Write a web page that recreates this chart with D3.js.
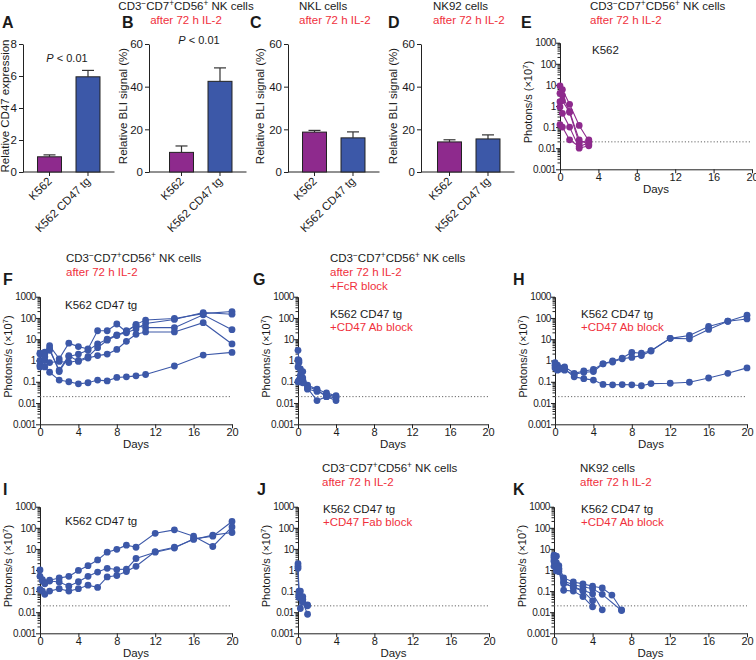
<!DOCTYPE html>
<html><head><meta charset="utf-8">
<script src="https://cdn.jsdelivr.net/npm/d3@7"></script>
<style>body{margin:0;background:#fff} svg text{font-family:"Liberation Sans",Arial,Helvetica,sans-serif;fill:#1a1a1a}</style>
</head><body><svg id="c" width="756" height="660"></svg>
<script>
// ---------------- data ----------------
const barCategories = ["K562", "K562 CD47 tg"];
const aValues = [0.95, 5.95], aErrors = [0.12, 0.4];
const bValues = [9.2, 42.5],  bErrors = [3.0, 6.3];
const cValues = [18.7, 16.0], cErrors = [0.8, 2.8];
const dValues = [14.1, 15.5], dErrors = [1.0, 1.9];
const aTicks = [0, 2, 4, 6, 8];
const bliTicks = [0, 20, 40, 60];
const logTicks = [1000, 100, 10, 1, 0.1, 0.01, 0.001];
const logTickLabels = ["1000", "100", "10", "1", "0.1", "0.01", "0.001"];
const dayTicks = [0, 4, 8, 12, 16, 20];
const detectionLimit = 0.02;

const seriesE = [
  [[0,9],[0.25,6],[1,1.2],[2,0.12],[3,0.022]],
  [[0,4],[0.25,3.2],[1,0.55],[2,0.025],[3,0.015]],
  [[0,1.6],[0.25,1.8],[1,0.5],[2,0.017],[3,0.025]],
  [[0,0.9],[0.25,0.45],[1,0.1],[2,0.01],[3,0.013]],
  [[0,0.13],[0.25,0.1],[1,0.025],[2,0.012],[3,0.018]]
];
const seriesF = [
  [[0,2.2],[0.5,2.5],[1,5],[2,1.2],[3,6.5],[4,4.5],[5,3.5],[6,25],[7,25],[8,52],[9,22],[10,50],[11,80],[14,95],[17,160],[20,200]],
  [[0,1],[0.5,2],[1,3.7],[2,0.3],[3,1.5],[4,2],[5,3],[6,6],[7,10],[8,16],[9,20],[10,30],[11,55],[14,85],[17,180],[20,150]],
  [[0,0.5],[0.5,1],[1,0.8],[2,0.9],[3,0.8],[4,1],[5,1.5],[6,4],[7,9],[8,15],[9,25],[10,45],[11,35],[14,35],[17,140],[20,28]],
  [[0,2],[0.5,1.5],[1,3],[2,0.35],[3,1.7],[4,0.9],[5,1.3],[6,1.7],[7,2],[8,3.3],[9,8],[10,17],[11,22],[14,22],[17,60],[20,6]],
  [[0,0.6],[0.5,0.5],[1,0.28],[2,0.12],[3,0.1],[4,0.08],[5,0.09],[6,0.12],[7,0.11],[8,0.16],[9,0.17],[10,0.19],[11,0.22],[14,0.55],[17,1.8],[20,2.4]]
];
const seriesG = [
  [[0,3],[0.1,1],[0.25,0.4],[0.5,0.3],[1,0.07],[2,0.045],[3,0.03],[4,0.022]],
  [[0,1.1],[0.1,0.8],[0.25,0.15],[0.5,0.12],[1,0.06],[2,0.04],[3,0.02],[4,0.018]],
  [[0,0.5],[0.1,0.1],[0.25,0.1],[0.5,0.09],[1,0.05],[2,0.013],[3,0.02],[4,0.013]],
  [[0,0.1],[0.1,0.12],[0.25,0.2],[0.5,0.15],[1,0.045],[2,0.035],[3,0.025],[4,0.02]]
];
const seriesH = [
  [[0,0.8],[0.25,0.6],[0.5,0.45],[1,0.5],[2,0.25],[3,0.32],[4,0.38],[5,0.7],[6,0.95],[7,1.3],[8,2.4],[9,2.2],[10,2.9],[12,11],[14,15],[16,40],[18,70],[20,135]],
  [[0,0.6],[0.25,0.45],[0.5,0.4],[1,0.35],[2,0.22],[3,0.28],[4,0.3],[5,0.7],[6,0.85],[7,1.2],[8,1.4],[9,1.7],[10,2.8],[12,11],[14,10.5],[16,29],[18,70],[20,90]],
  [[0,0.45],[0.25,0.35],[0.5,0.4],[1,0.4],[2,0.17],[3,0.14],[4,0.12],[5,0.075],[6,0.072],[7,0.074],[8,0.072],[9,0.065],[10,0.082],[12,0.085],[14,0.095],[16,0.15],[18,0.25],[20,0.45]]
];
const seriesI = [
  [[0,0.5],[0.25,0.3],[0.5,0.25],[1,0.33],[2,0.42],[3,0.5],[4,0.95],[5,1.6],[6,3],[7,7],[8,9.5],[9,15],[10,12],[12,55],[14,80],[16,40],[18,13],[20,110]],
  [[0,1],[0.25,0.35],[0.5,0.22],[1,0.3],[2,0.27],[3,0.17],[4,0.28],[5,0.5],[6,0.8],[7,1.2],[8,1.05],[9,1.1],[10,3.5],[12,7],[14,11],[16,30],[18,40],[20,200]],
  [[0,0.12],[0.25,0.1],[0.5,0.07],[1,0.1],[2,0.13],[3,0.1],[4,0.13],[5,0.19],[6,0.15],[7,0.47],[8,0.55],[9,0.85],[10,1.5],[12,7.5],[14,12],[16,28],[18,45],[20,60]]
];
const seriesJ = [
  [[0,2],[0.1,0.1],[0.25,0.06],[0.5,0.04],[1,0.022]],
  [[0,1.5],[0.1,0.06],[0.25,0.1],[0.5,0.055],[1,0.02]],
  [[0,1.2],[0.1,0.05],[0.25,0.015],[0.5,0.03],[1,0.008]]
];
const seriesK = [
  [[0,5],[0.25,4.5],[0.5,1.6],[1,0.42],[2,0.27],[3,0.22],[4,0.17],[5,0.14],[6,0.065],[7,0.013]],
  [[0,4],[0.25,2.2],[0.5,1.1],[1,0.3],[2,0.2],[3,0.16],[4,0.13],[5,0.07],[7,0.012]],
  [[0,3],[0.25,1.6],[0.5,0.85],[1,0.22],[2,0.16],[3,0.11],[4,0.075],[5,0.013]],
  [[0,2.5],[0.25,1.2],[0.5,0.9],[1,0.11],[2,0.1],[3,0.055],[4,0.018]],
  [[0,1.5],[0.25,0.9],[0.5,1.2],[1,0.26],[2,0.15],[3,0.1],[4,0.035]]
];

// ---------------- drawing ----------------
const PURPLE = "#8E2A8D", BLUE = "#3C58A8", RED = "#F0303C";
const FONT = "Liberation Sans, Arial, sans-serif";
const svg = d3.select("#c");

function rich(x, y, parts, opts = {}) {
  const size = opts.size || 11.5;
  const t = svg.append("text").attr("x", x).attr("y", y)
    .attr("font-size", size).attr("text-anchor", opts.anchor || "start");
  if (opts.color) t.style("fill", opts.color);
  let pend = 0;
  parts.forEach(p => {
    let ts;
    if (typeof p === "string") { ts = t.append("tspan").attr("font-size", size).text(p); if (pend) { ts.attr("dy", pend); pend = 0; } }
    else if (p.sup) { t.append("tspan").attr("dy", -4.5).attr("font-size", size * 0.72).text(p.sup); pend = 4.5; }
    else if (p.it) { ts = t.append("tspan").attr("font-size", size).attr("font-style", "italic").text(p.it); if (pend) { ts.attr("dy", pend); pend = 0; } }
  });
  return t;
}
const cellTitle = [ "CD3", {sup:"\u2212"}, "CD7", {sup:"+"}, "CD56", {sup:"+"}, " NK cells" ];
function letter(x, y, s) {
  svg.append("text").attr("x", x).attr("y", y).attr("font-size", 16).attr("font-weight", "bold").text(s);
}

function barPanel(o) {
  const y = d3.scaleLinear().domain([0, o.max]).range([172, 44]);
  const x = d3.scaleBand().domain(barCategories).range([o.axisX + o.gap, o.axisX + o.gap + 91.5]).padding(0.377);
  const g = svg.append("g");
  const ya = g.append("g").attr("transform", `translate(${o.axisX},0)`)
    .call(d3.axisLeft(y).tickValues(o.ticks).tickSize(4).tickSizeOuter(0).tickPadding(2));
  ya.attr("font-size", 11.5).attr("font-family", FONT);
  ya.selectAll("text").attr("font-size", 11.5);
  ya.selectAll("line,path").attr("stroke", "#222");
  const xa = g.append("g").attr("transform", `translate(0,172)`);
  xa.append("line").attr("x1", o.axisX).attr("x2", o.axisX + o.gap + 91.5).attr("stroke", "#222");
  barCategories.forEach(c => {
    const cx = x(c) + x.bandwidth() / 2;
    xa.append("line").attr("x1", cx).attr("x2", cx).attr("y2", 4).attr("stroke", "#222");
    xa.append("text").attr("transform", `translate(${cx + 3},${10}) rotate(-45)`)
      .attr("text-anchor", "end").attr("font-size", 11.5).text(c);
  });
  barCategories.forEach((c, i) => {
    const cx = x(c) + x.bandwidth() / 2;
    const top = y(o.values[i] + o.errors[i]);
    g.append("line").attr("x1", cx).attr("x2", cx).attr("y1", y(o.values[i])).attr("y2", top).attr("stroke", "#333").attr("stroke-width", 1.2);
    g.append("line").attr("x1", cx - 6).attr("x2", cx + 6).attr("y1", top).attr("y2", top).attr("stroke", "#333").attr("stroke-width", 1.2);
  });
  g.selectAll("rect.bar").data(o.values).join("rect")
    .attr("x", (d, i) => x(barCategories[i])).attr("width", x.bandwidth())
    .attr("y", d => y(d)).attr("height", d => y(0) - y(d))
    .attr("fill", (d, i) => i === 0 ? PURPLE : BLUE).attr("stroke", "#222").attr("stroke-width", 1);
  svg.append("text").attr("transform", `translate(${o.labelX},106) rotate(-90)`)
    .attr("text-anchor", "middle").attr("font-size", 11.5).text(o.ylabel);
}

function logPanel(o) {
  const x = d3.scaleLinear().domain([0, 20]).range([o.axisX, o.x20]);
  const y = d3.scaleLog().domain([0.001, 1000]).range([o.bottom, o.top]);
  const g = svg.append("g");
  const ya = g.append("g").attr("transform", `translate(${o.axisX},0)`)
    .call(d3.axisLeft(y).tickValues(logTicks).tickFormat((d, i) => logTickLabels[i]).tickSize(4).tickSizeOuter(0).tickPadding(0));
  ya.attr("font-size", 10).attr("font-family", FONT);
  ya.selectAll("text").attr("font-size", 10).attr("letter-spacing", -0.4);
  ya.selectAll("line,path").attr("stroke", "#222");
  const minor = y.ticks().filter(v => logTicks.indexOf(v) < 0);
  g.selectAll("line.minor").data(minor).join("line").attr("class", "minor")
    .attr("x1", o.axisX - 2.5).attr("x2", o.axisX).attr("y1", d => y(d)).attr("y2", d => y(d)).attr("stroke", "#222");
  const xa = g.append("g").attr("transform", `translate(0,${o.bottom})`)
    .call(d3.axisBottom(x).tickValues(dayTicks).tickSize(4).tickSizeOuter(0).tickPadding(0));
  xa.attr("font-size", 11).attr("font-family", FONT);
  xa.selectAll("text").attr("font-size", 11);
  xa.selectAll("line,path").attr("stroke", "#222");
  g.append("line").attr("x1", x(0)).attr("x2", x(20)).attr("y1", y(detectionLimit)).attr("y2", y(detectionLimit))
    .attr("stroke", "#666").attr("stroke-dasharray", "1.2,2").attr("stroke-width", 1);
  const line = d3.line().x(d => x(d[0])).y(d => y(d[1]));
  o.series.forEach(s => {
    g.append("path").attr("d", line(s)).attr("fill", "none").attr("stroke", o.color).attr("stroke-width", 1.1);
  });
  o.series.forEach(s => {
    g.selectAll(null).data(s).join("circle").attr("cx", d => x(d[0])).attr("cy", d => y(d[1])).attr("r", 3.4).attr("fill", o.color);
  });
  const lab = svg.append("text").attr("transform", `translate(${o.labelX},${(o.top + o.bottom) / 2 - 4}) rotate(-90)`)
    .attr("text-anchor", "middle").attr("font-size", 11);
  lab.append("tspan").attr("font-size", 11).text("Photons/s (\u00D710");
  lab.append("tspan").attr("dy", -4.5).attr("font-size", 8).text("7");
  lab.append("tspan").attr("dy", 4.5).attr("font-size", 11).text(")");
  svg.append("text").attr("x", (o.axisX + o.x20) / 2).attr("y", o.bottom + 23.5).attr("text-anchor", "middle").attr("font-size", 11.5).text("Days");
}

// ----- Row 1 -----
letter(2, 28, "A");
barPanel({axisX: 23, gap: 0, max: 8, ticks: aTicks, values: aValues, errors: aErrors, labelX: 8.5, ylabel: "Relative CD47 expression"});
rich(67, 62, [{it: "P"}, " < 0.01"], {anchor: "middle", size: 11});

letter(122, 28, "B");
barPanel({axisX: 149, gap: 6, max: 60, ticks: bliTicks, values: bValues, errors: bErrors, labelX: 127, ylabel: "Relative BLI signal (%)"});
rich(199, 44, [{it: "P"}, " < 0.01"], {anchor: "middle", size: 11});
rich(186, 10, cellTitle, {anchor: "middle"});
rich(186, 24, ["after 72 h IL-2"], {anchor: "middle", color: RED});

letter(250, 28, "C");
barPanel({axisX: 288, gap: 0, max: 60, ticks: bliTicks, values: cValues, errors: cErrors, labelX: 264, ylabel: "Relative BLI signal (%)"});
rich(299, 10, ["NKL cells"]);
rich(299, 24, ["after 72 h IL-2"], {color: RED});

letter(388, 28, "D");
barPanel({axisX: 421, gap: 2, max: 60, ticks: bliTicks, values: dValues, errors: dErrors, labelX: 397, ylabel: "Relative BLI signal (%)"});
rich(433, 10, ["NK92 cells"]);
rich(433, 24, ["after 72 h IL-2"], {color: RED});

letter(521, 28, "E");
rich(590, 10, cellTitle);
rich(590, 24, ["after 72 h IL-2"], {color: RED});
logPanel({axisX: 560, x20: 752, top: 42.7, bottom: 169.3, series: seriesE, color: PURPLE, labelX: 532});
rich(592, 54, ["K562"]);

// ----- Row 2 -----
letter(3, 285, "F");
rich(66, 262, cellTitle);
rich(66, 276, ["after 72 h IL-2"], {color: RED});
logPanel({axisX: 40, x20: 232, top: 296.7, bottom: 424.3, series: seriesF, color: BLUE, labelX: 12});
rich(65, 309, ["K562 CD47 tg"]);

letter(253, 285, "G");
rich(330, 262, cellTitle);
rich(330, 276, ["after 72 h IL-2"], {color: RED});
rich(330, 290, ["+FcR block"], {color: RED});
logPanel({axisX: 298, x20: 488, top: 296.7, bottom: 424.3, series: seriesG, color: BLUE, labelX: 270});
rich(330, 318, ["K562 CD47 tg"]);
rich(330, 331, ["+CD47 Ab block"], {color: RED});

letter(513, 285, "H");
logPanel({axisX: 555, x20: 747, top: 296.7, bottom: 424.3, series: seriesH, color: BLUE, labelX: 527});
rich(581, 318, ["K562 CD47 tg"]);
rich(581, 331, ["+CD47 Ab block"], {color: RED});

// ----- Row 3 -----
letter(3, 495, "I");
logPanel({axisX: 40, x20: 232, top: 506.7, bottom: 633.3, series: seriesI, color: BLUE, labelX: 12});
rich(65, 525, ["K562 CD47 tg"]);

letter(257, 495, "J");
rich(322, 472, cellTitle);
rich(322, 486, ["after 72 h IL-2"], {color: RED});
logPanel({axisX: 298, x20: 489, top: 506.7, bottom: 633.3, series: seriesJ, color: BLUE, labelX: 270});
rich(323, 513, ["K562 CD47 tg"]);
rich(323, 526, ["+CD47 Fab block"], {color: RED});

letter(513, 495, "K");
rich(580, 472, ["NK92 cells"]);
rich(580, 486, ["after 72 h IL-2"], {color: RED});
logPanel({axisX: 554, x20: 747, top: 506.7, bottom: 633.3, series: seriesK, color: BLUE, labelX: 526});
rich(581, 513, ["K562 CD47 tg"]);
rich(581, 526, ["+CD47 Ab block"], {color: RED});
</script>
</body></html>
